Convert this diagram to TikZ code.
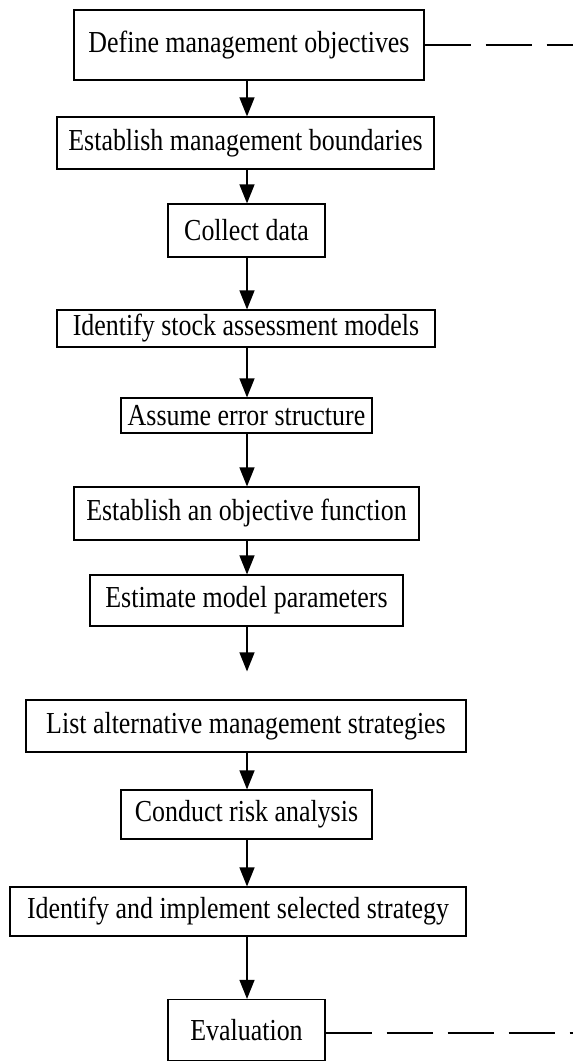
\documentclass[tikz,border=0pt]{standalone}
\usepackage{fontspec}
\setmainfont{Liberation Serif}[FakeStretch=0.85]
\usetikzlibrary{arrows.meta}
\begin{document}
\begin{tikzpicture}[x=1pt,y=-1pt,
  box/.style={draw, line width=1.2pt, inner sep=0pt, font=\fontsize{30.5}{34}\selectfont},
  arr/.style={line width=1.4pt, -{Triangle[length=19pt,width=15pt]}},
  dsh/.style={line width=1.2pt, dash pattern=on 46pt off 15pt}]
\useasboundingbox (0,0) rectangle (573,1062);
\coordinate (ax) at (247,0);
\node[box, minimum width=350pt, minimum height=70pt] (b1) at (249,45) {Define management objectives};
\node[box, minimum width=377pt, minimum height=52pt] (b2) at (245.5,143) {Establish management boundaries};
\node[box, minimum width=157pt, minimum height=53pt] (b3) at (246.5,230.5) {Collect data};
\node[box, minimum width=378pt, minimum height=37pt] (b4) at (246,328.5) {Identify stock assessment models};
\node[box, minimum width=251pt, minimum height=35pt] (b5) at (246.5,415.5) {Assume error structure};
\node[box, minimum width=345pt, minimum height=53pt] (b6) at (246.5,513.5) {Establish an objective function};
\node[box, minimum width=313pt, minimum height=51pt] (b7) at (246.5,600.5) {Estimate model parameters};
\node[box, minimum width=440pt, minimum height=52pt] (b8) at (246,726) {List alternative management strategies};
\node[box, minimum width=251pt, minimum height=49pt] (b9) at (246.5,814.5) {Conduct risk analysis};
\node[box, minimum width=456pt, minimum height=49pt] (b10) at (238,911.5) {Identify and implement selected strategy};
\node[box, minimum width=157pt, minimum height=61pt] (b11) at (246.5,1030) {Evaluation};
\coordinate (e1) at (573,45);
\coordinate (e2) at (573,1033);
\draw[arr] (b1.south -| ax) -- (b2.north -| ax);
\draw[arr] (b2.south -| ax) -- (b3.north -| ax);
\draw[arr] (b3.south -| ax) -- (b4.north -| ax);
\draw[arr] (b4.south -| ax) -- (b5.north -| ax);
\draw[arr] (b5.south -| ax) -- (b6.north -| ax);
\draw[arr] (b6.south -| ax) -- (b7.north -| ax);
\draw[arr, shorten >=28pt] (b7.south -| ax) -- (b8.north -| ax);
\draw[arr] (b8.south -| ax) -- (b9.north -| ax);
\draw[arr] (b9.south -| ax) -- (b10.north -| ax);
\draw[arr] (b10.south -| ax) -- (b11.north -| ax);
\draw[dsh] (b1.east) -- (e1);
\draw[dsh] (b11.east |- e2) -- (e2);
\end{tikzpicture}
\end{document}
